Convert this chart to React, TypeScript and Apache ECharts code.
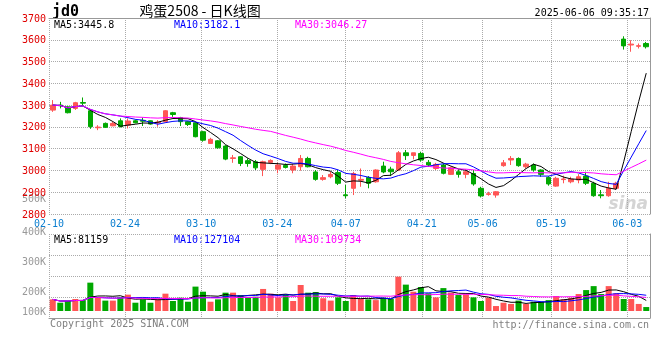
import React, { useEffect, useRef } from "react";
import * as echarts from "echarts";

const dates = [
  "2025-02-10","2025-02-11","2025-02-12","2025-02-13","2025-02-14","2025-02-17","2025-02-18","2025-02-19","2025-02-20","2025-02-21",
  "2025-02-24","2025-02-25","2025-02-26","2025-02-27","2025-02-28","2025-03-03","2025-03-04","2025-03-05","2025-03-06","2025-03-07",
  "2025-03-10","2025-03-11","2025-03-12","2025-03-13","2025-03-14","2025-03-17","2025-03-18","2025-03-19","2025-03-20","2025-03-21",
  "2025-03-24","2025-03-25","2025-03-26","2025-03-27","2025-03-28","2025-03-31","2025-04-01","2025-04-02","2025-04-03","2025-04-07",
  "2025-04-08","2025-04-09","2025-04-10","2025-04-11","2025-04-14","2025-04-15","2025-04-16","2025-04-17","2025-04-18","2025-04-21",
  "2025-04-22","2025-04-23","2025-04-24","2025-04-25","2025-04-28","2025-04-29","2025-04-30","2025-05-06","2025-05-07","2025-05-08",
  "2025-05-09","2025-05-12","2025-05-13","2025-05-14","2025-05-15","2025-05-16","2025-05-19","2025-05-20","2025-05-21","2025-05-22",
  "2025-05-23","2025-05-26","2025-05-27","2025-05-28","2025-05-29","2025-05-30","2025-06-03","2025-06-04","2025-06-05","2025-06-06",
];

const labelDates = ["2025-02-10","2025-02-24","2025-03-10","2025-03-24","2025-04-07","2025-04-21","2025-05-06","2025-05-19","2025-06-03"];

const opens = [
  3277,3300,3292,3285,3312,3274,3196,3216,3205,3228,
  3208,3228,3230,3228,3218,3224,3265,3243,3224,3219,
  3178,3124,3136,3112,3055,3063,3045,3040,3005,3037,
  3006,3023,3002,3017,3055,2993,2959,2971,2990,2888,
  2918,2955,2968,2948,3020,3006,3002,3081,3069,3078,
  3037,3009,3025,2982,2994,2982,2986,2918,2890,2887,
  3022,3048,3055,3017,3025,3002,2968,2928,2958,2948,
  2956,2974,2941,2888,2884,2918,3603,3576,3570,3583,
];
const closes = [
  3300,3297,3265,3311,3309,3201,3199,3198,3216,3201,
  3227,3219,3226,3213,3222,3274,3257,3224,3211,3155,
  3139,3143,3104,3052,3058,3032,3032,3012,3040,3046,
  3025,3014,3020,3055,3017,2959,2967,2982,2941,2884,
  2986,2959,2941,3002,2993,2994,3081,3068,3081,3048,
  3025,3028,2987,3012,2982,2994,2938,2883,2893,2902,
  3035,3055,3022,3029,3002,2982,2938,2964,2961,2960,
  2971,2941,2884,2884,2918,2941,3572,3580,3573,3568,
];
const lows = [
  3269,3285,3262,3278,3295,3191,3185,3196,3203,3198,
  3193,3216,3204,3210,3201,3219,3246,3204,3204,3152,
  3132,3124,3100,3047,3035,3020,3017,3002,2974,3029,
  2987,3009,2987,2999,3014,2953,2953,2964,2933,2872,
  2887,2925,2918,2944,2987,2974,2999,3048,3051,3040,
  3017,3002,2982,2979,2967,2964,2930,2876,2884,2875,
  3017,3025,3017,3009,2994,2971,2930,2925,2941,2941,
  2941,2933,2879,2872,2879,2910,3555,3545,3560,3560,
];
const highs = [
  3323,3315,3295,3315,3335,3280,3208,3220,3224,3239,
  3239,3234,3243,3230,3231,3277,3269,3246,3227,3222,
  3182,3150,3139,3116,3071,3066,3055,3048,3045,3051,
  3036,3032,3029,3071,3063,3002,2979,2994,3002,2933,
  2994,3009,2974,3005,3040,3017,3089,3094,3081,3086,
  3048,3035,3032,3017,3005,3005,3002,2925,2902,2905,
  3048,3066,3060,3035,3032,3005,2974,2971,2976,2971,
  2983,2994,2948,2910,2948,2948,3616,3598,3583,3590,
];
const volumes = [
  94000,67000,81000,97000,88000,229000,110000,84000,84000,110000,
  132000,67000,94000,67000,94000,140000,81000,107000,75000,197000,
  156000,75000,94000,148000,148000,129000,110000,116000,178000,140000,
  110000,135000,81000,210000,148000,153000,103000,84000,110000,81000,
  129000,97000,94000,88000,107000,97000,277000,213000,156000,194000,
  143000,110000,185000,148000,129000,135000,110000,81000,107000,40000,
  67000,57000,84000,57000,75000,75000,88000,121000,94000,107000,
  137000,169000,201000,137000,201000,143000,97000,97000,57000,32000,
];

const priceMaLabels = ["MA5:3445.8", "MA10:3182.1", "MA30:3046.27"];
const volMaLabels = ["MA5:81159", "MA10:127104", "MA30:109734"];
const volTickLabels = ["500K", "400K", "300K", "200K", "100K"];
const volTickY = [198, 231, 261, 291, 311];

const UP = "#ff5555";
const DOWN = "#00a800";
const MA_COLORS = ["#000000", "#0000ff", "#ff00ff"];
const FONT = '"DejaVu Sans Mono", monospace';

function ma(arr: number[], n: number) {
  return arr.map((_, i) => {
    const s = Math.max(0, i - n + 1);
    let sum = 0;
    for (let k = s; k <= i; k++) sum += arr[k];
    return +(sum / (i - s + 1)).toFixed(2);
  });
}

const isLabel = (_i: number, v: string) => labelDates.includes(v);

export default function App() {
  const ref = useRef<HTMLDivElement>(null);
  useEffect(() => {
    document.body.style.margin = "0";
    const chart = echarts.init(ref.current!, null, { renderer: "svg" });
    const grid = { color: "#aaaaaa", type: "dotted" as const, width: 1 };
    const maLine = (name: string, data: number[], color: string, xi: number, yi: number) => ({
      name, type: "line", data, xAxisIndex: xi, yAxisIndex: yi, symbol: "none", silent: true,
      lineStyle: { color, width: 1 }, z: 5,
    });
    const legendTexts = (labels: string[], y: number) =>
      labels.map((t, i) => ({
        type: "text", x: [54, 174, 295][i], y, silent: true,
        style: { text: t, fill: MA_COLORS[i], font: `10px ${FONT}`, verticalAlign: "middle" },
      }));
    chart.setOption({
      animation: false,
      grid: [
        { left: 49, top: 18, width: 601, height: 196 },
        { left: 49, top: 234, width: 601, height: 84 },
      ],
      xAxis: [
        { type: "category", gridIndex: 0, data: dates, boundaryGap: true, position: "top",
          axisLine: { show: true, lineStyle: { color: "#999" } }, axisTick: { show: false },
          axisLabel: { show: false }, splitLine: { show: false } },
        { type: "category", gridIndex: 0, data: dates, boundaryGap: false, position: "bottom",
          axisLine: { show: false }, axisTick: { show: false },
          axisLabel: { show: true, interval: isLabel, formatter: (v: string) => v.slice(5),
            color: "#0a7ed0", fontFamily: FONT, fontSize: 10, margin: 4 },
          splitLine: { show: true, interval: isLabel, lineStyle: grid } },
        { type: "category", gridIndex: 1, data: dates, boundaryGap: true, show: false },
        { type: "category", gridIndex: 1, data: dates, boundaryGap: false, position: "bottom",
          axisLine: { show: true, lineStyle: { color: "#999" } }, axisTick: { show: false },
          axisLabel: { show: false },
          splitLine: { show: true, interval: isLabel, lineStyle: grid } },
      ],
      yAxis: [
        { type: "value", gridIndex: 0, min: 2800, max: 3700, interval: 100,
          axisLine: { show: false }, axisTick: { show: false },
          axisLabel: { color: "#e00000", fontFamily: FONT, fontSize: 10, margin: 3, formatter: (v: number) => String(v) },
          splitLine: { show: true, lineStyle: grid } },
        { type: "value", gridIndex: 0, position: "right", min: 2800, max: 3700, interval: 100,
          axisLine: { show: true, lineStyle: { color: "#999" } }, axisTick: { show: false },
          axisLabel: { show: false }, splitLine: { show: false } },
        { type: "value", gridIndex: 1, min: -56500, max: 621800, show: false },
        { type: "value", gridIndex: 1, position: "right", min: 0, max: 4, interval: 1,
          axisLine: { show: true, lineStyle: { color: "#999" } }, axisTick: { show: false },
          axisLabel: { show: false }, splitLine: { show: true, lineStyle: grid } },
      ],
      series: [
        { type: "candlestick", xAxisIndex: 0, yAxisIndex: 0, barWidth: 5, silent: true,
          data: opens.map((o, i) => [o, closes[i], lows[i], highs[i]]),
          itemStyle: { color: UP, color0: DOWN, borderColor: UP, borderColor0: DOWN, borderWidth: 1 } },
        maLine("MA5", ma(closes, 5), MA_COLORS[0], 0, 0),
        maLine("MA10", ma(closes, 10), MA_COLORS[1], 0, 0),
        maLine("MA30", ma(closes, 30), MA_COLORS[2], 0, 0),
        { type: "bar", xAxisIndex: 2, yAxisIndex: 2, barWidth: 6, silent: true,
          data: volumes.map((v, i) => ({ value: v, itemStyle: { color: closes[i] >= opens[i] ? UP : DOWN } })) },
        maLine("VMA5", ma(volumes, 5), MA_COLORS[0], 2, 2),
        maLine("VMA10", ma(volumes, 10), MA_COLORS[1], 2, 2),
        maLine("VMA30", ma(volumes, 30), MA_COLORS[2], 2, 2),
      ],
      graphic: [
        { type: "text", x: 52, y: 11, style: { text: "jd0", fill: "#000", font: `bold 15px ${FONT}`, verticalAlign: "middle" } },
        { type: "text", x: 200, y: 10, style: { text: "鸡蛋2508 - 日K线图", fill: "#000", font: '14px "Noto Sans CJK SC"', align: "center", verticalAlign: "middle" } },
        { type: "text", x: 649, y: 12, style: { text: "2025-06-06 09:35:17", fill: "#000", font: `10px ${FONT}`, align: "right", verticalAlign: "middle" } },
        ...legendTexts(priceMaLabels, 24),
        ...legendTexts(volMaLabels, 239),
        ...volTickLabels.map((t, i) => ({
          type: "text", x: 46, y: volTickY[i],
          style: { text: t, fill: "#999", font: `10px ${FONT}`, align: "right", verticalAlign: "middle" },
        })),
        { type: "text", x: 648, y: 203, z: -1, style: { text: "sina", fill: "#d4d4d4", font: 'italic bold 17px "DejaVu Sans"', align: "right", verticalAlign: "middle" } },
        { type: "text", x: 50, y: 323, style: { text: "Copyright 2025 SINA.COM", fill: "#808080", font: `10px ${FONT}`, verticalAlign: "middle" } },
        { type: "text", x: 649, y: 324, style: { text: "http://finance.sina.com.cn", fill: "#808080", font: `10px ${FONT}`, align: "right", verticalAlign: "middle" } },
      ],
    });
    return () => chart.dispose();
  }, []);
  return <div ref={ref} style={{ position: "fixed", left: 0, top: 0, width: 660, height: 360 }} />;
}
